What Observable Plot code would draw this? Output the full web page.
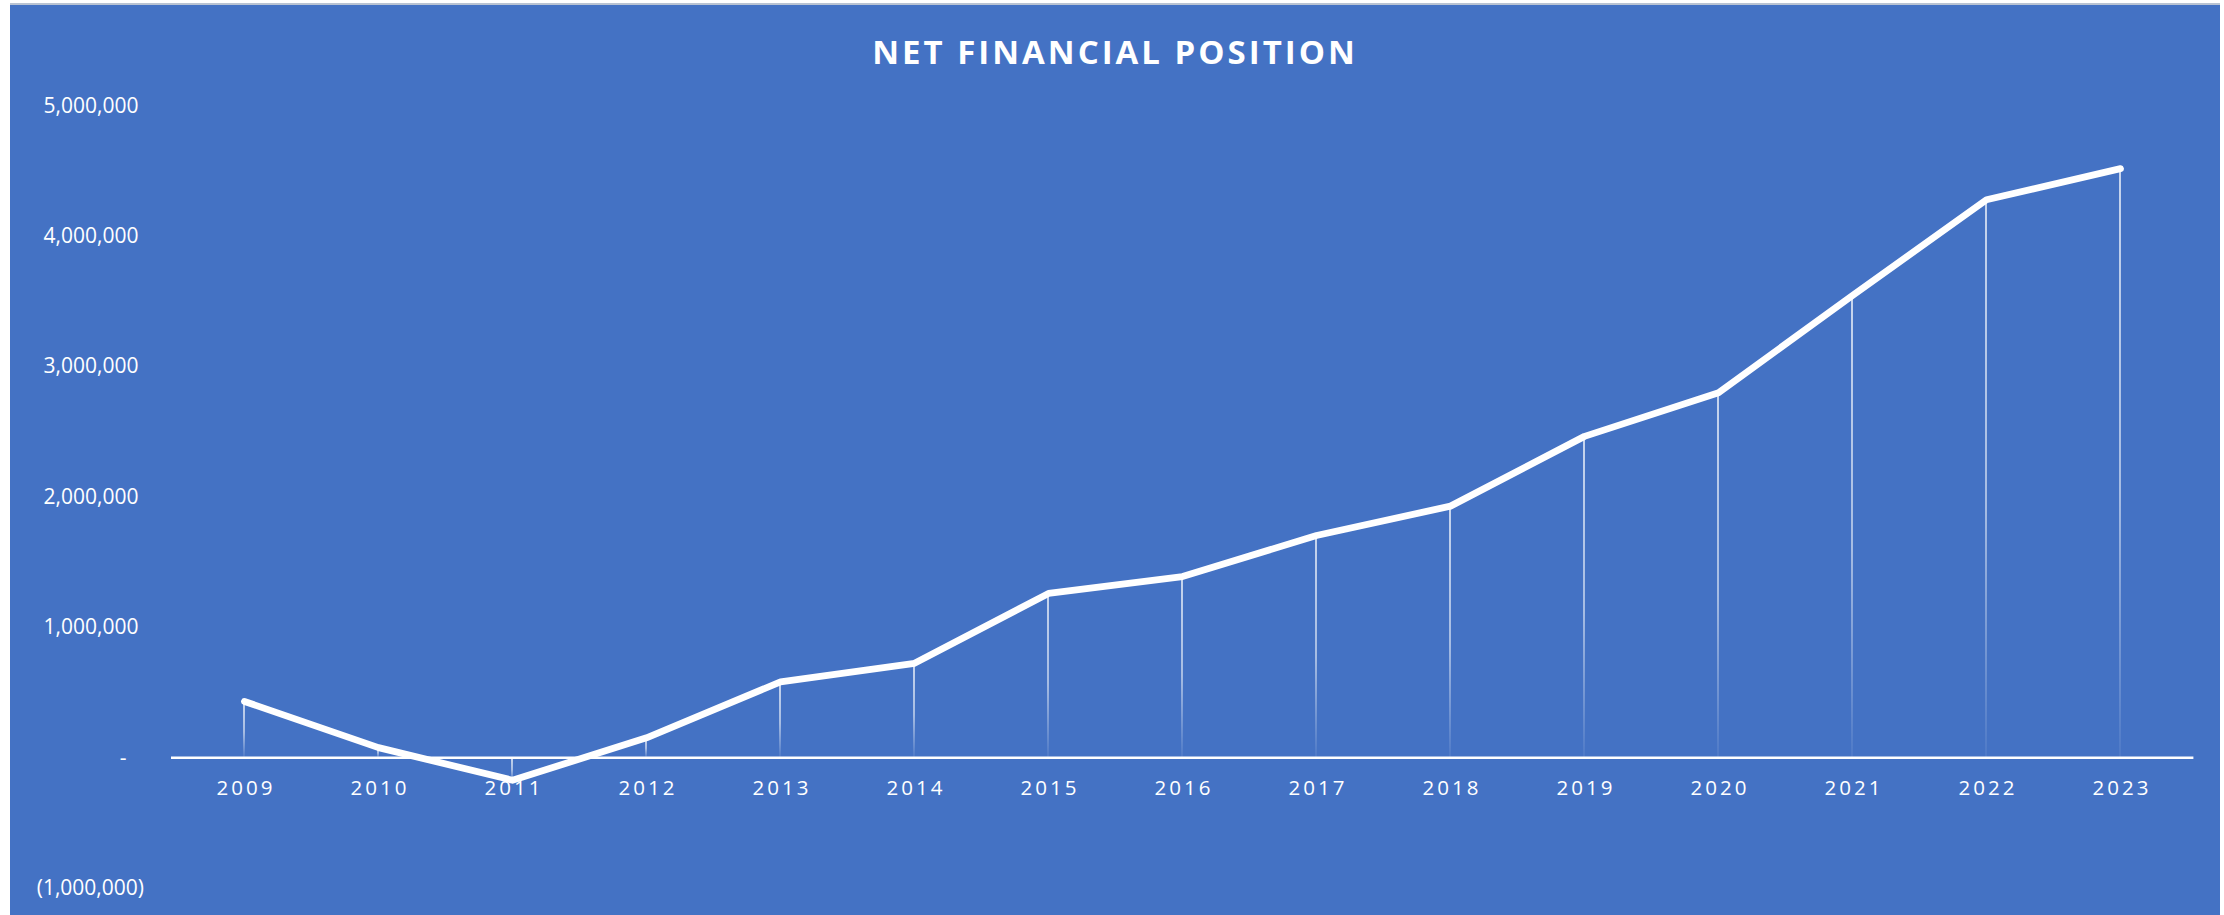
<!DOCTYPE html>
<html>
<head>
<meta charset="utf-8">
<script src="https://cdn.jsdelivr.net/npm/d3@7"></script>
<script src="https://cdn.jsdelivr.net/npm/@observablehq/plot@0.6"></script>
<style>
  html, body { margin: 0; padding: 0; background: #ffffff; width: 2224px; height: 915px; overflow: hidden; }
  #frame { position: absolute; left: 10px; top: 3px; width: 2210px; height: 912px; background: #4472C4; border-top: 2px solid #b9c3d3; }
  #title { height: 46px; padding-top: 30px; line-height: 33px; text-align: center; color: #ffffff;
           font-family: "Open Sans", sans-serif; font-weight: 700; font-size: 33px; letter-spacing: 3px; }
  #chart svg { display: block; }
</style>
</head>
<body>
<div id="frame">
  <div id="title">NET FINANCIAL POSITION</div>
  <div id="chart"></div>
</div>
<script>
const years = [2009, 2010, 2011, 2012, 2013, 2014, 2015, 2016, 2017, 2018, 2019, 2020, 2021, 2022, 2023];
const netPosition = [432000, 78000, -172000, 153000, 582000, 725000, 1260000, 1390000, 1705000, 1930000, 2465000, 2800000, 3545000, 4280000, 4518000];
const yTicks = [-1000000, 0, 1000000, 2000000, 3000000, 4000000, 5000000];

const data = years.map((year, i) => ({year, value: netPosition[i]}));
const fmt = d3.format(",");
const tickFormat = d => d === 0 ? "-\u2007\u2008" : d < 0 ? `(${fmt(-d)})` : fmt(d) + "\u2008";

const chart = Plot.plot({
  width: 2210,
  height: 832,
  marginLeft: 161,
  marginRight: 26.6,
  marginTop: 24.3,
  marginBottom: 25.3,
  style: {background: "transparent", color: "#ffffff", fontFamily: "'Open Sans', sans-serif", fontSize: "21px"},
  x: {type: "band", domain: years, padding: 0, axis: null},
  y: {domain: [-1000000, 5000000], ticks: yTicks, tickFormat, tickSize: 0, tickPadding: 27.5, label: null},
  marks: [
    Plot.ruleY([0], {stroke: "#ffffff", strokeWidth: 2.6}),
    Plot.barY(data, {x: "year", y: "value", fill: "url(#stemGrad)", insetLeft: 66.3, insetRight: 66.3}),
    Plot.line(data, {x: "year", y: "value", stroke: "#ffffff", strokeWidth: 6.8, strokeLinecap: "round", strokeLinejoin: "round"}),
    Plot.text(years, {x: d => d, y: () => 0, text: d => String(d), dy: 31, fill: "#ffffff", fontSize: 20.5})
  ]
});

const svg = d3.select(chart);
const defs = svg.insert("defs", ":first-child");
const grad = defs.append("linearGradient").attr("id", "stemGrad")
  .attr("x1", 0).attr("y1", 0).attr("x2", 0).attr("y2", 1);
grad.append("stop").attr("offset", "0%").attr("stop-color", "#ffffff").attr("stop-opacity", 1);
grad.append("stop").attr("offset", "55%").attr("stop-color", "#ffffff").attr("stop-opacity", 0.75);
grad.append("stop").attr("offset", "100%").attr("stop-color", "#ffffff").attr("stop-opacity", 0.08);
svg.selectAll('g[aria-label="text"] text').style("letter-spacing", "3px").attr("dx", 1.5);

document.getElementById("chart").appendChild(chart);
</script>
</body>
</html>
